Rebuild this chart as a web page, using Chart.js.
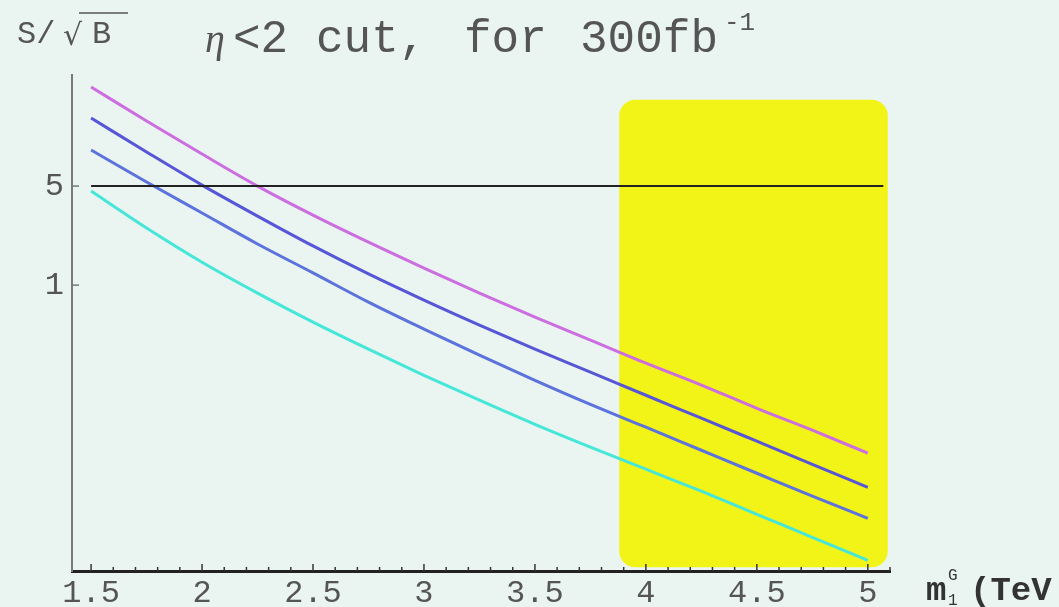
<!DOCTYPE html>
<html>
<head>
<meta charset="utf-8">
<title>S/sqrt(B) vs m1G</title>
<script src="https://cdn.jsdelivr.net/npm/chart.js@4/dist/chart.umd.min.js"></script>
<style>
  html, body { margin: 0; padding: 0; background: #eaf5f1; }
  #wrap { width: 1059px; height: 607px; }
</style>
</head>
<body>
<div id="wrap"><canvas id="chart" width="1059" height="607"></canvas></div>
<script>
// KK gluon mass (TeV) and significance for 300 fb^-1, eta < 2
const masses = [1.5, 1.75, 2, 2.25, 2.5, 2.75, 3, 3.25, 3.5, 3.75, 4, 4.25, 4.5, 4.75, 5];
const signifA = [25.0, 14.4, 8.42, 5.00, 3.12, 2.01, 1.32, 0.878, 0.594, 0.409, 0.281, 0.197, 0.135, 0.0946, 0.0651];
const signifB = [15.1, 8.70, 5.08, 3.07, 1.89, 1.20, 0.784, 0.522, 0.353, 0.243, 0.167, 0.115, 0.0791, 0.0544, 0.0374];
const signifC = [8.98, 5.34, 3.23, 1.95, 1.22, 0.758, 0.489, 0.320, 0.213, 0.144, 0.0993, 0.0683, 0.0470, 0.0324, 0.0226];
const signifD = [4.61, 2.53, 1.45, 0.878, 0.548, 0.353, 0.231, 0.154, 0.104, 0.0718, 0.0502, 0.0351, 0.0241, 0.0166, 0.0114];

const xTicks = [1.5, 2, 2.5, 3, 3.5, 4, 4.5, 5];
const yTicks = [1, 5];

// 5 sigma reference line
const fiveSigma = 5;
const fiveSigmaRange = [1.5, 5.07];

// highlighted mass window
const bandMass = [3.88, 5.09];
const bandSignif = [0.0102, 20.3];

const MONO = '"Liberation Mono", "Courier New", monospace';

function pts(ys) {
  return masses.map((m, i) => ({ x: m, y: ys[i] }));
}

const bandPlugin = {
  id: 'band',
  beforeDatasetsDraw(chart) {
    const { ctx, scales: { x, y } } = chart;
    const x0 = x.getPixelForValue(bandMass[0]);
    const x1 = x.getPixelForValue(bandMass[1]);
    const y0 = y.getPixelForValue(bandSignif[1]);
    const y1 = y.getPixelForValue(bandSignif[0]);
    ctx.save();
    ctx.fillStyle = '#f2f316';
    ctx.beginPath();
    ctx.roundRect(x0, y0, x1 - x0, y1 - y0, 16);
    ctx.fill();
    ctx.restore();
  }
};

const decorPlugin = {
  id: 'decor',
  afterDraw(chart) {
    const { ctx, scales: { x, y }, chartArea: a } = chart;
    ctx.save();

    // inward tick marks on the mass axis
    ctx.strokeStyle = '#333';
    ctx.lineWidth = 1.5;
    for (let v = 15; v <= 51; v++) {
      const px = x.getPixelForValue(v / 10);
      const len = v % 5 === 0 ? 7 : 4;
      ctx.beginPath();
      ctx.moveTo(px, a.bottom);
      ctx.lineTo(px, a.bottom - len);
      ctx.stroke();
    }
    // ticks on the significance axis
    ctx.strokeStyle = '#777';
    yTicks.forEach(v => {
      const py = y.getPixelForValue(v);
      ctx.beginPath();
      ctx.moveTo(a.left, py);
      ctx.lineTo(a.left + 7, py);
      ctx.stroke();
    });

    // axis label S/sqrt(B)
    ctx.fillStyle = '#555';
    ctx.textBaseline = 'alphabetic';
    ctx.font = '32px ' + MONO;
    ctx.fillText('S/', 17, 43);
    ctx.font = '30px "DejaVu Sans"';
    ctx.fillText('\u221A', 63, 45);
    ctx.font = '32px ' + MONO;
    ctx.fillText('B', 92, 43);
    ctx.strokeStyle = '#555';
    ctx.lineWidth = 1.5;
    ctx.beginPath();
    ctx.moveTo(79, 13);
    ctx.lineTo(128, 13);
    ctx.stroke();

    // title
    ctx.font = 'italic 40px "Liberation Serif"';
    ctx.fillText('\u03B7', 205, 52);
    ctx.font = '46px ' + MONO;
    ctx.fillText('<2', 233, 52);
    ctx.fillText('cut,', 316, 52);
    ctx.fillText('for', 464, 52);
    ctx.fillText('300fb', 580, 52);
    ctx.font = '26px ' + MONO;
    ctx.fillText('-1', 724, 30);

    // mass axis label
    ctx.fillStyle = '#333';
    ctx.font = 'bold 34px ' + MONO;
    ctx.fillText('m', 926, 600);
    ctx.font = '16px ' + MONO;
    ctx.fillText('1', 948, 605);
    ctx.fillText('G', 948, 580);
    ctx.font = 'bold 34px ' + MONO;
    ctx.fillText('(TeV', 970, 600);

    ctx.restore();
  }
};

const lineStyle = { pointRadius: 0, borderWidth: 3, cubicInterpolationMode: 'monotone', fill: false };

new Chart(document.getElementById('chart').getContext('2d'), {
  type: 'line',
  data: {
    datasets: [
      { data: [{ x: fiveSigmaRange[0], y: fiveSigma }, { x: fiveSigmaRange[1], y: fiveSigma }],
        borderColor: '#222', borderWidth: 2, pointRadius: 0 },
      Object.assign({ data: pts(signifA), borderColor: '#cc6ee0' }, lineStyle),
      Object.assign({ data: pts(signifB), borderColor: '#5656d6' }, lineStyle),
      Object.assign({ data: pts(signifC), borderColor: '#5c72dc' }, lineStyle),
      Object.assign({ data: pts(signifD), borderColor: '#46e6d8' }, lineStyle)
    ]
  },
  options: {
    responsive: false,
    animation: false,
    layout: { padding: { top: 75, right: 169, left: 0, bottom: 0 } },
    plugins: { legend: { display: false }, tooltip: { enabled: false } },
    scales: {
      x: {
        type: 'linear',
        min: 1.414,
        max: 5.1,
        grid: { display: false, drawTicks: false },
        border: { display: true, color: '#222', width: 3 },
        afterBuildTicks: s => { s.ticks = xTicks.map(v => ({ value: v })); },
        afterFit: s => { s.height = 36; },
        ticks: { color: '#555', padding: 3, font: { family: MONO, size: 32 }, maxRotation: 0, autoSkip: false,
                 callback: v => String(v) }
      },
      y: {
        type: 'logarithmic',
        min: 0.0096,
        max: 30.4,
        grid: { display: false, drawTicks: false },
        border: { display: true, color: '#7a7a7a', width: 2 },
        afterBuildTicks: s => { s.ticks = yTicks.map(v => ({ value: v })); },
        afterFit: s => { s.width = 72; },
        ticks: { color: '#555', padding: 8, font: { family: MONO, size: 32 }, callback: v => String(v) }
      }
    }
  },
  plugins: [bandPlugin, decorPlugin]
});
</script>
</body>
</html>
